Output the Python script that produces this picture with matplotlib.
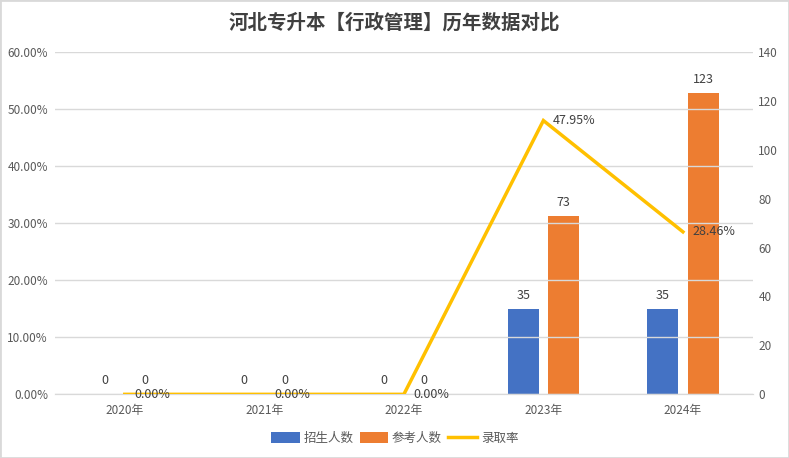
import numpy as np
import matplotlib
matplotlib.use("Agg")
import matplotlib.pyplot as plt
from matplotlib.patches import Rectangle
from matplotlib.ticker import FuncFormatter, MultipleLocator

plt.rcParams['font.family'] = ['Noto Sans CJK SC', 'DejaVu Sans']

years = ["2020年", "2021年", "2022年", "2023年", "2024年"]
enrolled = [0, 0, 0, 35, 35]        # 招生人数
applicants = [0, 0, 0, 73, 123]     # 参考人数
admit_rate = [0.0, 0.0, 0.0, 47.95, 28.46]  # 录取率 (%)

BLUE = "#4472C4"
ORANGE = "#ED7D31"
GOLD = "#FFC000"
GRID = "#D9D9D9"
TICK = "#595959"
LABEL = "#404040"

fig = plt.figure(figsize=(7.89, 4.58), dpi=100)
ax = fig.add_axes([0.0697, 0.139, 0.8843, 0.748])
ax2 = ax.twinx()

x = np.arange(len(years))
bw = 0.224
off = 0.145

# left axis: rate
ax.set_ylim(0, 60)
ax.set_xlim(-0.5, len(years) - 0.5)
ax.yaxis.set_major_locator(MultipleLocator(10))
ax.yaxis.set_major_formatter(FuncFormatter(lambda v, p: f"{v:.2f}%"))
ax.grid(axis="y", color=GRID, linewidth=1)
ax.set_axisbelow(True)

# right axis: counts
ax2.set_ylim(0, 140)
ax2.yaxis.set_major_locator(MultipleLocator(20))

b1 = ax2.bar(x - off, enrolled, bw, color=BLUE, label="招生人数", zorder=2)
b2 = ax2.bar(x + off, applicants, bw, color=ORANGE, label="参考人数", zorder=2)
for bars in (b1, b2):
    for r in bars:
        ax2.annotate(f"{r.get_height():.0f}", (r.get_x() + r.get_width() / 2, r.get_height()),
                     xytext=(0, 5), textcoords="offset points", ha="center", va="bottom",
                     fontsize=9, color=LABEL)

# line drawn on top of bars
ax.set_zorder(ax2.get_zorder() + 1)
ax.patch.set_visible(False)
ln, = ax.plot(x, admit_rate, color=GOLD, linewidth=2.5, label="录取率", zorder=3,
              solid_joinstyle="miter")
for xi, v in zip(x, admit_rate):
    ax.annotate(f"{v:.2f}%", (xi, v), xytext=(7, 0), textcoords="offset points",
                ha="left", va="center", fontsize=9, color=LABEL)

ax.set_xticks(x)
ax.set_xticklabels(years)
for a in (ax, ax2):
    for s in ("top", "left", "right"):
        a.spines[s].set_visible(False)
    a.spines["bottom"].set_color(GRID)
    a.tick_params(length=0, labelsize=8.5, labelcolor=TICK)
ax.tick_params(axis="x", pad=7)
ax.tick_params(axis="y", pad=5)
ax2.tick_params(axis="y", pad=4)

fig.suptitle("河北专升本【行政管理】历年数据对比", x=0.5, y=0.972, fontsize=14,
             fontweight="bold", color="#404040", va="top")

fig.legend(handles=[b1, b2, ln], loc="center", bbox_to_anchor=(0.5, 0.043), ncol=3,
           frameon=False, fontsize=9, handlelength=2.3, handleheight=0.9,
           handletextpad=0.3, columnspacing=0.5, labelcolor=TICK)

fig.patches.append(Rectangle((0, 0), 1, 1, transform=fig.transFigure, fill=False,
                             edgecolor=GRID, linewidth=2))

fig.savefig("out.png", dpi=100)
